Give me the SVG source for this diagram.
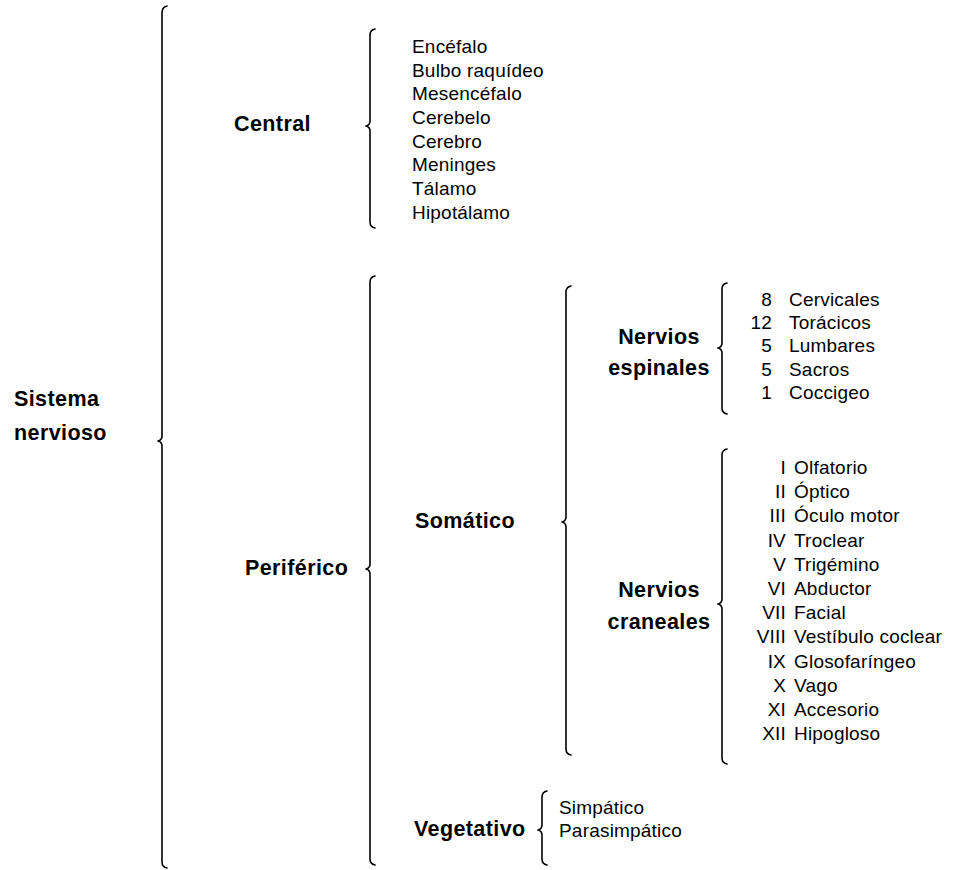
<svg xmlns="http://www.w3.org/2000/svg" width="960" height="870" viewBox="0 0 960 870">
<style>
.b{font-family:"Liberation Sans",Arial,sans-serif;font-weight:bold;font-size:21.5px;letter-spacing:0.4px;fill:#000}
.r{font-family:"Liberation Sans",Arial,sans-serif;font-size:19px;letter-spacing:0.2px;fill:#000}
.e{text-anchor:end}
.m{text-anchor:middle}
.br{fill:none;stroke:#000;stroke-width:1.6;stroke-linecap:round;stroke-linejoin:round}
</style>
<rect width="960" height="870" fill="#fff"/>
<g id="connectors">
<path class="br" d="M167,6 Q162,7 162,13 L162,436 Q162,440 158,441 Q162,442 162,446 L162,862 Q162,867 167,868"/>
<path class="br" d="M375,29 Q370,30 370,35 L370,121 Q370,125 366,126 Q370,127 370,131 L370,222 Q370,227 375,228"/>
<path class="br" d="M375,276 Q370,277 370,282 L370,564 Q370,568 366,569 Q370,570 370,574 L370,859 Q370,864 375,865"/>
<path class="br" d="M571,286 Q566,287 566,292 L566,517 Q566,521 562,522 Q566,523 566,527 L566,749 Q566,754 571,755"/>
<path class="br" d="M727,283 Q722,284 722,289 L722,343 Q722,347 718,348 Q722,349 722,353 L722,408 Q722,413 727,414"/>
<path class="br" d="M727,449 Q722,450 722,455 L722,599 Q722,603 718,604 Q722,605 722,609 L722,758 Q722,763 727,764"/>
<path class="br" d="M547,791 Q542,792 542,797 L542,825 Q542,829 538,830 Q542,831 542,835 L542,859 Q542,864 547,865"/>
</g>
<g id="sistema-nervioso">
<text class="b" x="14" y="406">Sistema</text>
<text class="b" x="14" y="440">nervioso</text>
</g>
<g id="central">
<text class="b" x="234" y="131">Central</text>
</g>
<g id="central-items">
<text class="r" x="412" y="53">Encéfalo</text>
<text class="r" x="412" y="77">Bulbo raquídeo</text>
<text class="r" x="412" y="100">Mesencéfalo</text>
<text class="r" x="412" y="124">Cerebelo</text>
<text class="r" x="412" y="148">Cerebro</text>
<text class="r" x="412" y="171">Meninges</text>
<text class="r" x="412" y="195">Tálamo</text>
<text class="r" x="412" y="219">Hipotálamo</text>
</g>
<g id="periferico">
<text class="b" x="245" y="575">Periférico</text>
</g>
<g id="somatico">
<text class="b" x="415" y="528">Somático</text>
</g>
<g id="vegetativo">
<text class="b" x="414" y="836">Vegetativo</text>
</g>
<g id="vegetativo-items">
<text class="r" x="559" y="814">Simpático</text>
<text class="r" x="559" y="837">Parasimpático</text>
</g>
<g id="nervios-espinales">
<text class="b m" x="659" y="344">Nervios</text>
<text class="b m" x="659" y="375">espinales</text>
</g>
<g id="espinales-items">
<text class="r e" x="772" y="306">8</text><text class="r" x="789" y="306">Cervicales</text>
<text class="r e" x="772" y="329">12</text><text class="r" x="789" y="329">Torácicos</text>
<text class="r e" x="772" y="352">5</text><text class="r" x="789" y="352">Lumbares</text>
<text class="r e" x="772" y="376">5</text><text class="r" x="789" y="376">Sacros</text>
<text class="r e" x="772" y="399">1</text><text class="r" x="789" y="399">Coccigeo</text>
</g>
<g id="nervios-craneales">
<text class="b m" x="659" y="597">Nervios</text>
<text class="b m" x="659" y="629">craneales</text>
</g>
<g id="craneales-items">
<text class="r e" x="786" y="474">I</text><text class="r" x="794" y="474">Olfatorio</text>
<text class="r e" x="786" y="498">II</text><text class="r" x="794" y="498">Óptico</text>
<text class="r e" x="786" y="522">III</text><text class="r" x="794" y="522">Óculo motor</text>
<text class="r e" x="786" y="547">IV</text><text class="r" x="794" y="547">Troclear</text>
<text class="r e" x="786" y="571">V</text><text class="r" x="794" y="571">Trigémino</text>
<text class="r e" x="786" y="595">VI</text><text class="r" x="794" y="595">Abductor</text>
<text class="r e" x="786" y="619">VII</text><text class="r" x="794" y="619">Facial</text>
<text class="r e" x="786" y="643">VIII</text><text class="r" x="794" y="643">Vestíbulo coclear</text>
<text class="r e" x="786" y="668">IX</text><text class="r" x="794" y="668">Glosofaríngeo</text>
<text class="r e" x="786" y="692">X</text><text class="r" x="794" y="692">Vago</text>
<text class="r e" x="786" y="716">XI</text><text class="r" x="794" y="716">Accesorio</text>
<text class="r e" x="786" y="740">XII</text><text class="r" x="794" y="740">Hipogloso</text>
</g>
</svg>
